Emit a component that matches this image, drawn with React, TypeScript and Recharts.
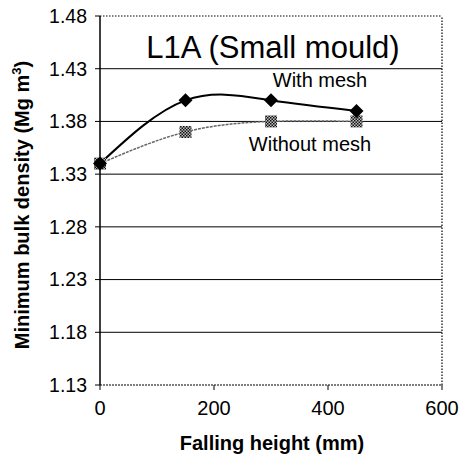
import React from 'react';
import { LineChart, Line, XAxis, YAxis, ReferenceLine } from 'recharts';

// falling height (mm) and minimum bulk density (Mg m-3)
const heights = [0, 150, 300, 450];
const withMesh = [1.34, 1.4, 1.4, 1.39];
const withoutMesh = [1.34, 1.37, 1.38, 1.38];
const xTicks = [0, 200, 400, 600];
const yTicks = [1.13, 1.18, 1.23, 1.28, 1.33, 1.38, 1.43, 1.48];
const gridValues = [1.18, 1.23, 1.28, 1.33, 1.38, 1.43];

const data = heights.map((h, i) => ({
  height: h,
  withMesh: withMesh[i],
  withoutMesh: withoutMesh[i],
}));

const FONT = '"Liberation Sans", Arial, Helvetica, sans-serif';
const W = 462;
const H = 467;

const Diamond = (props: any) => {
  const { cx, cy, index } = props;
  const r = 7;
  return (
    <path
      key={`d-${index}`}
      d={`M${cx},${cy - r}L${cx + r},${cy}L${cx},${cy + r}L${cx - r},${cy}Z`}
      fill="#000"
    />
  );
};

const Checker = (props: any) => {
  const { cx, cy, index } = props;
  const s = 12;
  return (
    <rect
      key={`c-${index}`}
      x={cx - s / 2}
      y={cy - s / 2}
      width={s}
      height={s}
      fill="url(#checker)"
    />
  );
};

export default function App() {
  return (
    <div style={{ position: 'relative', width: W, height: H, background: '#fff' }}>
      <style>{'body{margin:0}'}</style>
      <LineChart
        width={W}
        height={H}
        data={data}
        margin={{ top: 16, right: 20, bottom: 0, left: 0 }}
      >
        <defs>
          <pattern id="checker" width="3" height="3" patternUnits="userSpaceOnUse">
            <rect width="3" height="3" fill="#bbb" />
            <rect width="1.5" height="1.5" fill="#111" />
            <rect x="1.5" y="1.5" width="1.5" height="1.5" fill="#111" />
          </pattern>
        </defs>
        <XAxis
          dataKey="height"
          type="number"
          domain={[0, 600]}
          ticks={xTicks}
          height={82}
          tickSize={5}
          tickMargin={11}
          tick={{ fill: '#000', fontSize: 20, fontFamily: FONT }}
          axisLine={{ stroke: '#000', strokeWidth: 1.2, strokeDasharray: '2 1' }}
          tickLine={{ stroke: '#000' }}
        />
        <YAxis
          type="number"
          domain={[1.13, 1.48]}
          ticks={yTicks}
          width={100}
          tickSize={5}
          tickMargin={8}
          tickFormatter={(v: number) => v.toFixed(2)}
          tick={{ fill: '#000', fontSize: 19.5, fontFamily: FONT }}
          axisLine={{ stroke: '#000', strokeWidth: 1.5 }}
          tickLine={{ stroke: '#000' }}
        />
        {gridValues.map((v) => (
          <ReferenceLine key={v} y={v} stroke="#000" strokeWidth={1} />
        ))}
        <ReferenceLine y={1.48} stroke="#000" strokeWidth={1.2} strokeDasharray="1.5 1.5" />
        <ReferenceLine x={600} stroke="#000" strokeWidth={1.2} strokeDasharray="1.5 1.5" />
        <Line
          type="natural"
          dataKey="withoutMesh"
          stroke="#666"
          strokeWidth={1.5}
          strokeDasharray="3 1"
          dot={Checker}
          isAnimationActive={false}
        />
        <Line
          type="natural"
          dataKey="withMesh"
          stroke="#000"
          strokeWidth={2}
          dot={Diamond}
          isAnimationActive={false}
        />
      </LineChart>
      <svg
        width={W}
        height={H}
        style={{ position: 'absolute', left: 0, top: 0, pointerEvents: 'none' }}
        fontFamily={FONT}
      >
        <text x={273} y={58} fontSize={31} textAnchor="middle" fill="#000">
          L1A (Small mould)
        </text>
        <text x={320} y={87} fontSize={20} textAnchor="middle" fill="#000">
          With mesh
        </text>
        <text x={310} y={151} fontSize={20} textAnchor="middle" fill="#000">
          Without mesh
        </text>
        <text x={272} y={450} fontSize={20} fontWeight="bold" textAnchor="middle" fill="#000">
          Falling height (mm)
        </text>
        <text
          transform="translate(29,205) rotate(-90)"
          fontSize={20}
          fontWeight="bold"
          textAnchor="middle"
          fill="#000"
        >
          Minimum bulk density (Mg m
          <tspan fontSize={13} dy={-8}>3</tspan>
          <tspan dy={8}>)</tspan>
        </text>
      </svg>
    </div>
  );
}
